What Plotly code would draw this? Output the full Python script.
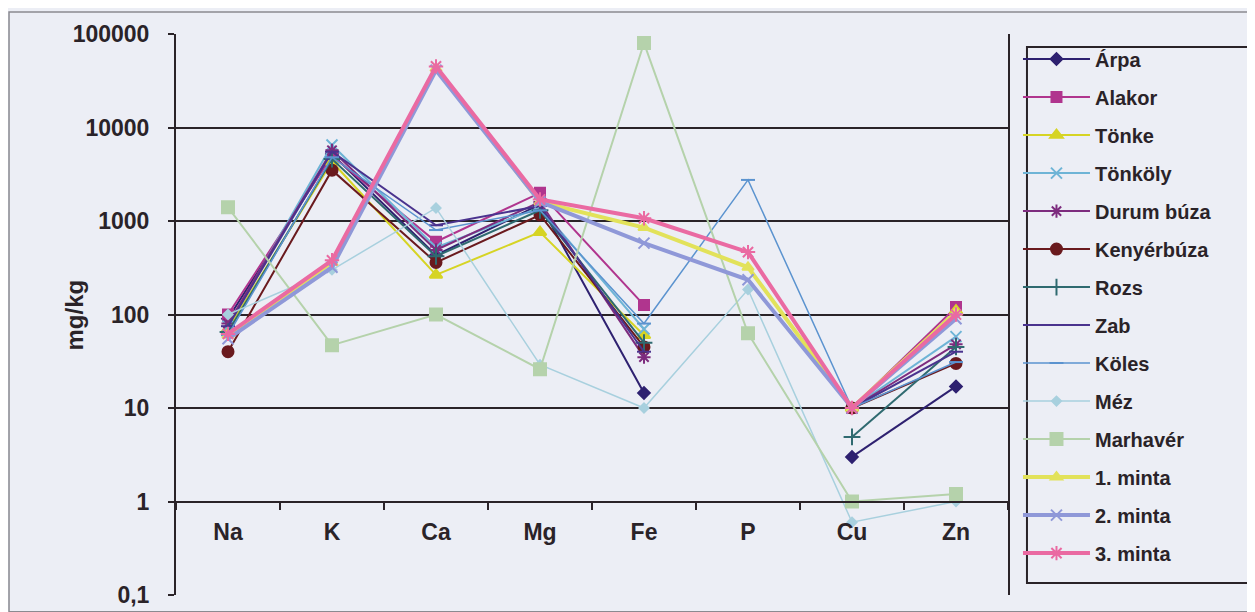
import plotly.graph_objects as go

categories = ["Na", "K", "Ca", "Mg", "Fe", "P", "Cu", "Zn"]

arpa = [90, 5200, 430, 1500, 14.5, None, 3.0, 17]
alakor = [100, 5000, 600, 2000, 126, None, 10, 120]
tonke = [70, 4300, 265, 760, 60, None, 10, 110]
tonkoly = [75, 6500, 520, 1400, 70, None, 10, 58]
durum = [80, 5700, 490, 1600, 35, None, 10, 48]
kenyer = [40, 3500, 360, 1160, 45, None, 10, 30]
rozs = [65, 4600, 420, 1300, 50, None, 4.9, 45]
zab = [75, 5500, 900, 1450, 40, None, 10, 40]
koles = [60, 4800, 800, 1300, 80, 2750, 10, 31]
mez = [100, 300, 1380, 29, 10, 185, 0.6, 1.0]
marhaver = [1400, 47, 100, 26, 80000, 63, 1.0, 1.2]
minta1 = [60, 360, 43000, 1600, 850, 320, 10, 105]
minta2 = [55, 320, 41000, 1600, 580, 235, 10, 90]
minta3 = [62, 380, 45000, 1700, 1070, 465, 10, 100]

y_tickvals = [0.1, 1, 10, 100, 1000, 10000, 100000]
y_ticktext = ["0,1", "1", "10", "100", "1000", "10000", "100000"]

series = [
    ("Árpa", arpa, "#2e2170", "diamond", 9, 2),
    ("Alakor", alakor, "#b0358e", "square", 10, 2),
    ("Tönke", tonke, "#d6d424", "triangle-up", 11, 2),
    ("Tönköly", tonkoly, "#6eb4d6", "x-thin-open", 11, 2),
    ("Durum búza", durum, "#7d2c7e", "asterisk-open", 11, 2),
    ("Kenyérbúza", kenyer, "#6a1a1e", "circle", 11, 2),
    ("Rozs", rozs, "#2f6a70", "cross-thin-open", 12, 2),
    ("Zab", zab, "#4a338e", "line-ew-open", 10, 2),
    ("Köles", koles, "#5b93cf", "line-ew-open", 10, 1.5),
    ("Méz", mez, "#a8d0de", "diamond", 7, 1.5),
    ("Marhavér", marhaver, "#b5d2ab", "square", 12, 2),
    ("1. minta", minta1, "#e2e25a", "triangle-up", 10, 4),
    ("2. minta", minta2, "#8f98d8", "x-thin-open", 11, 4),
    ("3. minta", minta3, "#ea6aa2", "asterisk-open", 12, 4),
]

fig = go.Figure()
for i, (name, vals, color, sym, size, lw) in enumerate(series):
    fig.add_trace(go.Scatter(
        x=categories, y=vals, name=name, mode="lines+markers",
        legendgroup=f"g{i}",
        line=dict(color=color, width=lw),
        marker=dict(symbol=sym, size=size, color=color,
                    line=dict(color=color, width=2)),
        connectgaps=False,
    ))

font_color = "#2a2328"
fam = "Liberation Sans, Arial, sans-serif"
fig.update_layout(
    width=1255, height=612,
    margin=dict(l=168, r=255, t=26, b=25),
    paper_bgcolor="#eceef5",
    plot_bgcolor="#eceef5",
    font=dict(family=fam, color=font_color),
    showlegend=True,
    legend=dict(
        x=1.012, y=0.99, xanchor="left", yanchor="top",
        borderwidth=0,
        bgcolor="rgba(0,0,0,0)",
        font=dict(size=20, family=fam, color=font_color, weight="bold"),
        tracegroupgap=9,
        traceorder="grouped",
        itemwidth=67,
    ),
    xaxis=dict(
        type="category",
        anchor="free", position=1/6,
        showline=True, linecolor="#2a2328", linewidth=2,
        ticks="outside", tickson="boundaries", ticklen=7, tickwidth=2,
        tickcolor="#2a2328",
        showgrid=False, zeroline=False,
        tickfont=dict(size=23, family=fam, color=font_color),
        ticklabelstandoff=10,
        range=[-0.5, 7.5],
    ),
    yaxis=dict(
        type="log", range=[-1, 5],
        tickvals=y_tickvals, ticktext=y_ticktext,
        showline=True, linecolor="#2a2328", linewidth=2, mirror=True,
        ticks="outside", ticklen=6, tickwidth=2, tickcolor="#2a2328",
        showgrid=True, gridcolor="#2a2328", gridwidth=2,
        tickfont=dict(size=23, family=fam, color=font_color),
        ticklabelstandoff=14,
    ),
)

# bold tick labels
fig.update_xaxes(ticktext=[f"<b>{c}</b>" for c in categories], tickvals=categories)
fig.update_yaxes(ticktext=[f"<b>{t}</b>" for t in y_ticktext])

# y-axis title
fig.add_annotation(text="<b>mg/kg</b>", xref="paper", yref="paper",
                   x=-0.1214, y=0.5, xanchor="center", yanchor="middle",
                   textangle=-90, showarrow=False,
                   font=dict(size=24, family=fam, color=font_color))

# legend frame
fig.add_shape(type="rect", xref="paper", yref="paper",
              x0=1.0228, x1=1.2909, y0=0.0214, y1=0.9768,
              line=dict(color="#2a2328", width=2))

# outer chart frame
fig.add_shape(type="rect", xref="paper", yref="paper",
              x0=-0.2007, x1=1.35, y0=-0.03, y1=1.039,
              line=dict(color="#8a8a90", width=1.5), layer="below")

fig.write_html("out.html")
